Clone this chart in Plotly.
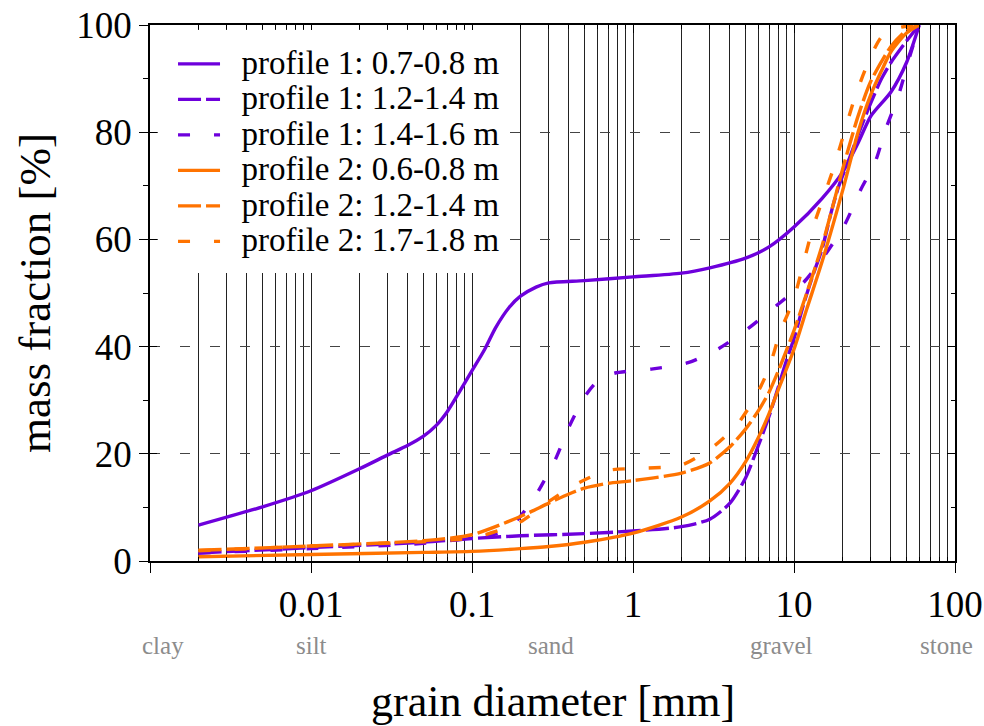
import math
import plotly.graph_objects as go

# ---------------- data ----------------
# grain diameter [mm] and passing mass fraction [%]
p1_07_d = [0.002, 0.005, 0.01, 0.02, 0.03, 0.04, 0.05, 0.06, 0.07, 0.08, 0.09, 0.1, 0.12, 0.14, 0.17, 0.2, 0.25, 0.3, 0.5, 1, 2, 3, 5, 7, 10, 15, 20, 25, 30, 40, 50, 60]
p1_07_m = [6.7, 10.1, 13.1, 17.2, 19.8, 21.6, 23.3, 25.3, 27.8, 30.6, 33.2, 35.5, 39.5, 43.5, 47.3, 49.4, 51.1, 51.9, 52.3, 53.0, 53.7, 54.7, 56.5, 58.6, 62.3, 67.7, 72.5, 78.0, 83.0, 87.5, 93.0, 100]

p1_12_d = [0.002, 0.01, 0.05, 0.1, 0.2, 0.5, 1, 2, 3, 4, 5, 6, 7, 8, 9, 10, 11.5, 13, 15, 17, 19, 22, 25, 30, 35, 40, 50, 60]
p1_12_m = [1.5, 2.5, 3.5, 4.2, 4.7, 5.1, 5.6, 6.4, 7.8, 10.8, 15.5, 21.5, 27.0, 32.5, 37.5, 41.5, 48.0, 53.0, 58.4, 65.0, 70.0, 75.0, 79.5, 85.5, 90.0, 93.0, 97.0, 100]

p1_14_d = [0.002, 0.01, 0.05, 0.1, 0.15, 0.19, 0.22, 0.26, 0.33, 0.4, 0.5, 0.6, 0.76, 1.3, 2.2, 3.4, 5.1, 7.6, 11.5, 15.5, 20.6, 26, 32, 37, 44.5, 51, 60]
p1_14_m = [1.5, 2.3, 3.3, 4.3, 5.3, 7.6, 10.0, 13.2, 19.0, 25.0, 30.6, 33.5, 35.0, 35.8, 37.0, 39.6, 43.2, 47.4, 52.0, 57.0, 62.7, 69.3, 74.5, 80.5, 86.8, 93.0, 100]

p2_06_d = [0.002, 0.01, 0.05, 0.1, 0.2, 0.3, 0.5, 1, 2, 3, 4, 5, 6, 7, 8, 10, 12, 15, 20, 25, 30, 35, 40, 50, 60]
p2_06_m = [0.8, 1.2, 1.6, 1.8, 2.3, 2.7, 3.5, 5.2, 8.2, 11.2, 14.5, 18.5, 23.0, 27.5, 32.0, 39.5, 47.0, 56.0, 69.0, 80.0, 87.0, 91.5, 95.0, 98.5, 100]

p2_12_d = [0.002, 0.01, 0.05, 0.1, 0.2, 0.3, 0.4, 0.5, 0.7, 1, 2, 3, 4, 5, 6, 7, 8, 10, 12, 15, 20, 25, 30, 40, 50, 60]
p2_12_m = [2.0, 2.8, 3.8, 4.9, 8.3, 10.8, 12.5, 13.6, 14.5, 15.0, 16.4, 18.3, 21.3, 24.6, 28.0, 31.5, 35.5, 43.0, 50.0, 59.0, 73.0, 83.0, 89.5, 96.0, 99.0, 100]

p2_17_d = [0.002, 0.01, 0.05, 0.1, 0.15, 0.2, 0.29, 0.44, 0.7, 1.15, 2, 3.2, 4.5, 5.8, 7, 8.2, 10, 13, 17.7, 20.5, 23.6, 28, 35, 45, 60]
p2_17_m = [1.9, 2.8, 3.6, 4.3, 5.8, 7.3, 10.8, 14.3, 16.9, 17.3, 17.9, 21.5, 25.7, 30.8, 36.0, 42.7, 49.0, 61.8, 73.5, 79.9, 86.0, 92.0, 97.8, 99.5, 100]

series_names = [
    "profile 1: 0.7-0.8 m",
    "profile 1: 1.2-1.4 m",
    "profile 1: 1.4-1.6 m",
    "profile 2: 0.6-0.8 m",
    "profile 2: 1.2-1.4 m",
    "profile 2: 1.7-1.8 m",
]
series_d = [p1_07_d, p1_12_d, p1_14_d, p2_06_d, p2_12_d, p2_17_d]
series_m = [p1_07_m, p1_12_m, p1_14_m, p2_06_m, p2_12_m, p2_17_m]

x_tick_vals = [0.001, 0.01, 0.1, 1, 10, 100]
x_tick_text = ["", "0.01", "0.1", "1", "10", "100"]
y_tick_vals = [0, 20, 40, 60, 80, 100]

class_names = ["clay", "silt", "sand", "gravel", "stone"]
class_pos = [0.0012, 0.01, 0.31, 8.4, 88]

# ---------------- styling ----------------
PURPLE = "#6e00dc"
ORANGE = "#ff7300"
colors = [PURPLE, PURPLE, PURPLE, ORANGE, ORANGE, ORANGE]
dashes = ["solid", "23px,5px", "12px,24px", "solid", "23px,5px", "12px,24px"]
FONT = "Liberation Serif"

minor_vals = [m * 10 ** e for e in range(-3, 2) for m in range(2, 10)]

fig = go.Figure()
for name, d, m, c, ds in zip(series_names, series_d, series_m, colors, dashes):
    fig.add_trace(go.Scatter(
        x=d, y=m,
        name='<span style="font-size:33px">&nbsp;&nbsp;' + name + '</span>',
        mode="lines",
        line=dict(color=c, width=3.4, dash=ds, shape="spline", smoothing=0.7),
    ))

# empty helper traces so the tick-only overlay axes are drawn
fig.add_trace(go.Scatter(x=[], y=[], xaxis="x2", yaxis="y2", showlegend=False, hoverinfo="skip"))
fig.add_trace(go.Scatter(x=[], y=[], xaxis="x", yaxis="y3", showlegend=False, hoverinfo="skip"))

xrange = [-3, 2]
fig.update_layout(
    width=984, height=726,
    margin=dict(l=150, r=29, t=25, b=165),
    paper_bgcolor="white", plot_bgcolor="white",
    font=dict(family=FONT, color="black"),
    showlegend=True,
    xaxis=dict(
        type="log", range=xrange, automargin=False,
        tickmode="array", tickvals=x_tick_vals, ticktext=x_tick_text,
        ticks="outside", ticklen=10, tickwidth=1.2, tickcolor="black",
        tickfont=dict(size=37, family=FONT),
        showgrid=True, gridcolor="#222", gridwidth=1,
        minor=dict(tickmode="array", tickvals=minor_vals, ticks="inside", ticklen=4,
                   tickcolor="black", showgrid=True, gridcolor="#222", gridwidth=1),
        showline=True, linecolor="black", linewidth=1.5, mirror=True,
        zeroline=False,
    ),
    xaxis2=dict(
        type="log", range=xrange, overlaying="x", side="top", anchor="y", automargin=False,
        tickmode="array", tickvals=x_tick_vals, ticks="inside", ticklen=8,
        tickcolor="black", showticklabels=False, showgrid=False, showline=False,
        minor=dict(tickmode="array", tickvals=minor_vals, ticks="inside", ticklen=4,
                   tickcolor="black", showgrid=False),
        zeroline=False,
    ),
    yaxis=dict(
        range=[0, 100], tickmode="array", tickvals=y_tick_vals, automargin=False,
        ticks="outside", ticklen=9, tickwidth=1.2, tickcolor="black",
        tickfont=dict(size=37, family=FONT),
        showgrid=True, gridcolor="#444", gridwidth=1, griddash="10px,20px",
        minor=dict(dtick=10, ticks="outside", ticklen=5, tickcolor="black", showgrid=False),
        showline=True, linecolor="black", linewidth=1.5, mirror=True,
        zeroline=False,
    ),
    yaxis2=dict(
        range=[0, 100], overlaying="y", side="right", anchor="x2", automargin=False,
        tickmode="array", tickvals=y_tick_vals, ticks="inside", ticklen=8,
        tickcolor="black", showticklabels=False, showgrid=False, showline=False,
        minor=dict(dtick=10, ticks="inside", ticklen=4, tickcolor="black", showgrid=False),
        zeroline=False,
    ),
    yaxis3=dict(
        range=[0, 100], overlaying="y", side="left", anchor="x", automargin=False,
        tickmode="array", tickvals=y_tick_vals, ticks="inside", ticklen=7,
        tickcolor="black", showticklabels=False, showgrid=False, showline=False,
        zeroline=False,
    ),
    legend=dict(
        x=0.0286, xanchor="left", y=0.970, yanchor="top",
        bgcolor="rgba(0,0,0,0)", borderwidth=0, itemwidth=42,
        font=dict(size=25, family=FONT, color="black"),
        tracegroupgap=0,
    ),
)

# opaque legend box (covers the grid like the reference)
fig.add_shape(type="rect", xref="paper", yref="paper",
              x0=0.0099, x1=0.4435, y0=0.5373, y1=0.9907,
              fillcolor="white", line=dict(width=0), layer="above")

annotations = []
for name, pos in zip(class_names, class_pos):
    annotations.append(dict(
        x=math.log10(pos), xref="x", y=-0.157, yref="paper", text=name, showarrow=False,
        xanchor="center", yanchor="middle",
        font=dict(size=25, family=FONT, color="#8c8c8c"),
    ))
fig.update_layout(annotations=annotations)
# axis titles, positioned like the reference
fig.add_annotation(x=0.5, xref="paper", y=-0.2623, yref="paper", text="grain diameter [mm]",
                   showarrow=False, xanchor="center", yanchor="middle",
                   font=dict(size=44, family=FONT, color="black"))
fig.add_annotation(x=-0.1429, xref="paper", y=0.5, yref="paper", text="mass fraction [%]",
                   showarrow=False, xanchor="center", yanchor="middle", textangle=-90,
                   font=dict(size=45, family=FONT, color="black"))

fig.write_html("out.html")
